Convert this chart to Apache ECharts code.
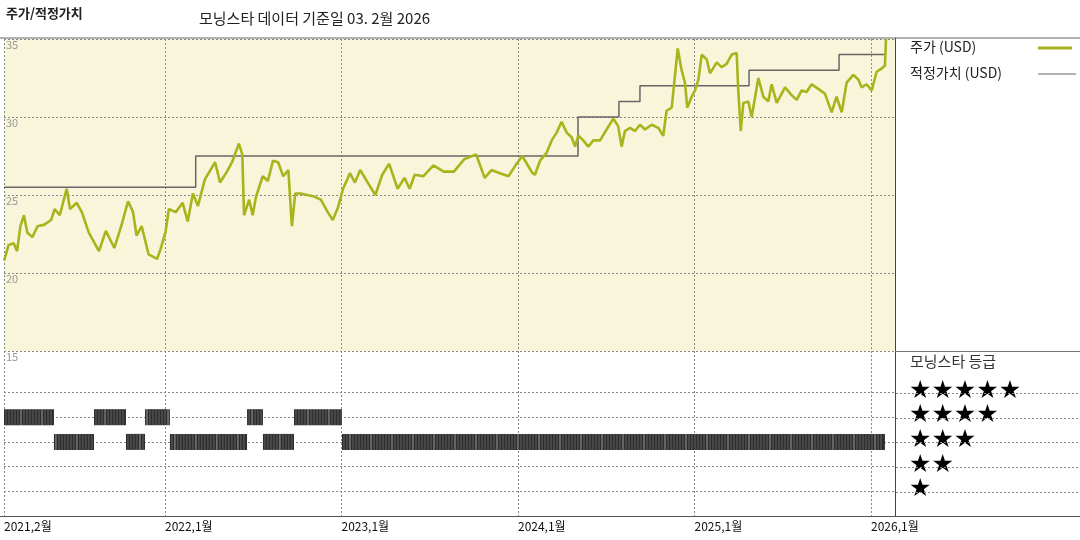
<!DOCTYPE html>
<html>
<head>
<meta charset="utf-8">
<script src="https://cdn.jsdelivr.net/npm/echarts@6/dist/echarts.min.js"></script>
<style>
  html, body { margin: 0; padding: 0; background: #fff; }
  #chart { width: 1080px; height: 540px; }
</style>
</head>
<body>
<div id="chart"></div>
<script>
// 주가 (USD) - 시점은 소수 연도
var priceDates = [
  2021.089, 2021.114, 2021.143, 2021.162, 2021.181, 2021.201, 2021.220, 2021.249, 2021.278, 2021.317,
  2021.355, 2021.375, 2021.404, 2021.443, 2021.462, 2021.500, 2021.529, 2021.568, 2021.626, 2021.665,
  2021.713, 2021.752, 2021.791, 2021.819, 2021.839, 2021.868, 2021.907, 2021.955, 2021.974, 2022.003,
  2022.022, 2022.061, 2022.100, 2022.129, 2022.158, 2022.187, 2022.226, 2022.284, 2022.312, 2022.351,
  2022.380, 2022.419, 2022.438, 2022.448, 2022.477, 2022.497, 2022.516, 2022.554, 2022.583, 2022.612,
  2022.641, 2022.670, 2022.699, 2022.719, 2022.738, 2022.767, 2022.806, 2022.845, 2022.883, 2022.922,
  2022.951, 2022.980, 2023.009, 2023.048, 2023.076, 2023.106, 2023.154, 2023.192, 2023.231, 2023.270,
  2023.318, 2023.357, 2023.386, 2023.415, 2023.463, 2023.521, 2023.579, 2023.637, 2023.696, 2023.763,
  2023.811, 2023.850, 2023.898, 2023.946, 2023.986, 2024.024, 2024.082,
  2024.096, 2024.125, 2024.162, 2024.191, 2024.219, 2024.247, 2024.276, 2024.304, 2024.323, 2024.342,
  2024.370, 2024.398, 2024.427, 2024.465, 2024.502, 2024.540, 2024.568, 2024.587, 2024.606, 2024.635,
  2024.663, 2024.691, 2024.720, 2024.757, 2024.795, 2024.823, 2024.842, 2024.871, 2024.889, 2024.905,
  2024.927, 2024.946, 2024.959, 2024.984, 2025.003, 2025.022, 2025.041, 2025.069, 2025.088, 2025.126,
  2025.154, 2025.182, 2025.211, 2025.239, 2025.248, 2025.262, 2025.277, 2025.305, 2025.324, 2025.362,
  2025.390, 2025.418, 2025.437, 2025.466, 2025.513, 2025.550, 2025.579, 2025.607, 2025.635, 2025.664,
  2025.701, 2025.739, 2025.777, 2025.805, 2025.834, 2025.862, 2025.900, 2025.928, 2025.947, 2025.975,
  2026.004, 2026.032, 2026.060, 2026.079, 2026.085
];
var prices = [
  20.8, 21.8, 21.9, 21.4, 23.0, 23.7, 22.6, 22.3, 23.0, 23.1,
  23.4, 24.1, 23.7, 25.4, 24.1, 24.5, 23.9, 22.6, 21.4, 22.7,
  21.6, 23.0, 24.6, 23.9, 22.4, 23.0, 21.2, 20.9, 21.5, 22.6,
  24.1, 23.9, 24.5, 23.3, 25.1, 24.3, 26.0, 27.1, 25.8, 26.5,
  27.1, 28.3, 27.6, 23.7, 24.7, 23.7, 24.9, 26.2, 25.9, 27.2,
  27.1, 26.2, 26.6, 23.0, 25.1, 25.1, 25.0, 24.9, 24.7, 23.9,
  23.4, 24.2, 25.4, 26.4, 25.8, 26.6, 25.7, 25.0, 26.3, 27.0,
  25.4, 26.1, 25.4, 26.3, 26.2, 26.9, 26.5, 26.5, 27.3, 27.6,
  26.1, 26.6, 26.4, 26.2, 26.9, 27.5, 26.4,
  26.3, 27.2, 27.7, 28.5, 29.0, 29.7, 29.0, 28.7, 28.1, 28.8,
  28.5, 28.1, 28.5, 28.5, 29.2, 29.9, 29.4, 28.1, 29.1, 29.3,
  29.1, 29.5, 29.2, 29.5, 29.3, 28.8, 30.4, 30.6, 32.6, 34.4,
  33.0, 32.2, 30.6, 31.3, 31.7, 32.4, 34.0, 33.7, 32.8, 33.5,
  33.2, 33.4, 34.0, 34.1, 31.7, 29.1, 30.9, 31.0, 30.0, 32.5,
  31.3, 31.0, 32.1, 30.9, 31.9, 31.4, 31.1, 31.7, 31.6, 32.1,
  31.8, 31.5, 30.3, 31.3, 30.3, 32.2, 32.7, 32.4, 31.9, 32.1,
  31.7, 32.9, 33.1, 33.3, 35.0
];

// 적정가치 (USD) - 변경 시점과 값
var fairDates = [2021.088, 2022.174, 2024.340, 2024.572, 2024.691, 2025.309, 2025.819, 2026.085];
var fairValues = [25.5, 27.5, 30.0, 31.0, 32.0, 33.0, 34.0, 34.0];

// 모닝스타 등급 구간 [시작, 끝, 별 개수]
var ratingStart = [2021.088, 2021.371, 2021.598, 2021.779, 2021.887, 2022.028, 2022.465, 2022.555, 2022.731, 2023.003];
var ratingEnd   = [2021.371, 2021.598, 2021.779, 2021.887, 2022.028, 2022.465, 2022.555, 2022.731, 2023.003, 2026.079];
var ratingStars = [4, 3, 4, 3, 4, 3, 4, 3, 4, 3];

// x축 눈금
var xTickValues = [2021.088, 2022, 2023, 2024, 2025, 2026];
var xTickLabels = ['2021,2월', '2022,1월', '2023,1월', '2024,1월', '2025,1월', '2026,1월'];
var yTicks = [15, 20, 25, 30, 35];

var xMin = 2021.088, xMax = 2026.136;
var FONT = '"Noto Sans CJK KR", sans-serif';
var dash = { color: '#888', type: [2, 2], width: 1 };

var chart = echarts.init(document.getElementById('chart'));

var priceData = priceDates.map(function (d, i) { return [d, prices[i]]; });
var fairData = fairDates.map(function (d, i) { return [d, fairValues[i]]; });
var ratingData = ratingStart.map(function (s, i) { return [s, ratingEnd[i], ratingStars[i]]; });

function xAxisBase(idx, showLabel) {
  return {
    type: 'value', gridIndex: idx, min: xMin, max: xMax,
    axisLine: { show: false },
    axisTick: { show: false, customValues: xTickValues },
    splitLine: { show: true, lineStyle: dash },
    axisLabel: {
      show: showLabel, customValues: xTickValues, align: 'left', margin: 4,
      color: '#111', fontSize: 12, fontFamily: FONT,
      formatter: function (v) {
        var k = xTickValues.indexOf(v);
        return k >= 0 ? xTickLabels[k] : '';
      }
    }
  };
}

// 범례 영역의 등급 기준선
var legendRatingLines = [393, 418, 442, 467, 492].map(function (y) {
  return { type: 'line', shape: { x1: 896, y1: y + 0.5, x2: 1080, y2: y + 0.5 }, style: { stroke: '#888', lineWidth: 1, lineDash: [2, 2] } };
});

var option = {
  animation: false,
  textStyle: { fontFamily: FONT },
  grid: [
    { left: 4, top: 39, width: 891, height: 312, show: true, backgroundColor: '#f8f5da', borderWidth: 0 },
    { left: 4, top: 351, width: 891, height: 165, show: false }
  ],
  xAxis: [xAxisBase(0, false), xAxisBase(1, true)],
  yAxis: [
    {
      type: 'value', gridIndex: 0, min: 15, max: 35, interval: 5,
      axisLine: { show: false }, axisTick: { show: false },
      splitLine: { show: true, lineStyle: dash },
      axisLabel: {
        inside: true, verticalAlign: 'top', margin: 2, color: '#999', fontSize: 11, fontFamily: FONT,
        formatter: function (v) { return yTicks.indexOf(v) >= 0 ? String(v) : ''; }
      }
    },
    {
      type: 'value', gridIndex: 1, min: 0, max: 6.68,
      axisLine: { show: false }, axisTick: { show: false },
      axisLabel: { show: false }, splitLine: { show: false }
    }
  ],
  graphic: [
    { type: 'text', left: 6, top: 7, style: { text: '주가/적정가치', font: 'bold 13px ' + FONT, fill: '#222' } },
    { type: 'text', left: 199, top: 11, style: { text: '모닝스타 데이터 기준일 03. 2월 2026', font: '15px ' + FONT, fill: '#222' } },
    { type: 'line', shape: { x1: 0, y1: 38, x2: 1080, y2: 38 }, style: { stroke: '#666', lineWidth: 1 } },
    { type: 'line', shape: { x1: 0, y1: 516.5, x2: 1080, y2: 516.5 }, style: { stroke: '#555', lineWidth: 1.2 } },
    { type: 'line', shape: { x1: 895.5, y1: 38, x2: 895.5, y2: 516 }, style: { stroke: '#444', lineWidth: 1 } },
    { type: 'line', shape: { x1: 895, y1: 351.5, x2: 1080, y2: 351.5 }, style: { stroke: '#777', lineWidth: 1 } },
    { type: 'text', left: 910, top: 40, style: { text: '주가 (USD)', font: '14px ' + FONT, fill: '#222' } },
    { type: 'line', shape: { x1: 1038, y1: 48, x2: 1072, y2: 48 }, style: { stroke: '#a8b41c', lineWidth: 3 } },
    { type: 'text', left: 910, top: 66, style: { text: '적정가치 (USD)', font: '14px ' + FONT, fill: '#222' } },
    { type: 'line', shape: { x1: 1038, y1: 74, x2: 1076, y2: 74 }, style: { stroke: '#666', lineWidth: 1.2 } },
    { type: 'text', left: 910, top: 354, style: { text: '모닝스타 등급', font: '15px ' + FONT, fill: '#333' } },
    { type: 'text', left: 909, top: 379, style: { text: '★★★★★', font: '25px "DejaVu Sans"', fill: '#000' } },
    { type: 'text', left: 909, top: 403, style: { text: '★★★★', font: '25px "DejaVu Sans"', fill: '#000' } },
    { type: 'text', left: 909, top: 428, style: { text: '★★★', font: '25px "DejaVu Sans"', fill: '#000' } },
    { type: 'text', left: 909, top: 453, style: { text: '★★', font: '25px "DejaVu Sans"', fill: '#000' } },
    { type: 'text', left: 909, top: 477, style: { text: '★', font: '25px "DejaVu Sans"', fill: '#000' } }
  ].concat(legendRatingLines),
  series: [
    {
      name: '적정가치 (USD)', type: 'line', xAxisIndex: 0, yAxisIndex: 0, step: 'end',
      data: fairData, symbol: 'none', lineStyle: { color: '#666', width: 1.5 }, z: 3
    },
    {
      name: '주가 (USD)', type: 'line', xAxisIndex: 0, yAxisIndex: 0,
      data: priceData, symbol: 'none', clip: true, lineStyle: { color: '#a8b41c', width: 2.6 }, z: 4
    },
    {
      // 등급 기준선 (별 1~5개)
      type: 'line', xAxisIndex: 1, yAxisIndex: 1, data: [], symbol: 'none',
      markLine: {
        silent: true, symbol: 'none', label: { show: false },
        lineStyle: { color: '#888', type: [2, 2], width: 1 },
        data: [1, 2, 3, 4, 5].map(function (s) { return { yAxis: s }; })
      }
    },
    {
      type: 'custom', xAxisIndex: 1, yAxisIndex: 1, data: ratingData, z: 5,
      renderItem: function (params, api) {
        var p0 = api.coord([api.value(0), api.value(2)]);
        var p1 = api.coord([api.value(1), api.value(2)]);
        var h = 16;
        var children = [{
          type: 'rect', shape: { x: p0[0], y: p0[1] - h / 2, width: p1[0] - p0[0], height: h },
          style: { fill: '#2e2e2e' }
        }];
        for (var x = p0[0] + 2; x < p1[0] - 1; x += 3) {
          children.push({
            type: 'line', shape: { x1: x, y1: p0[1] - h / 2, x2: x, y2: p0[1] + h / 2 },
            style: { stroke: (Math.round(x) % 7 === 0) ? '#ccc' : '#777', lineWidth: 0.7 }
          });
        }
        return { type: 'group', children: children };
      }
    }
  ]
};

chart.setOption(option);
</script>
</body>
</html>
